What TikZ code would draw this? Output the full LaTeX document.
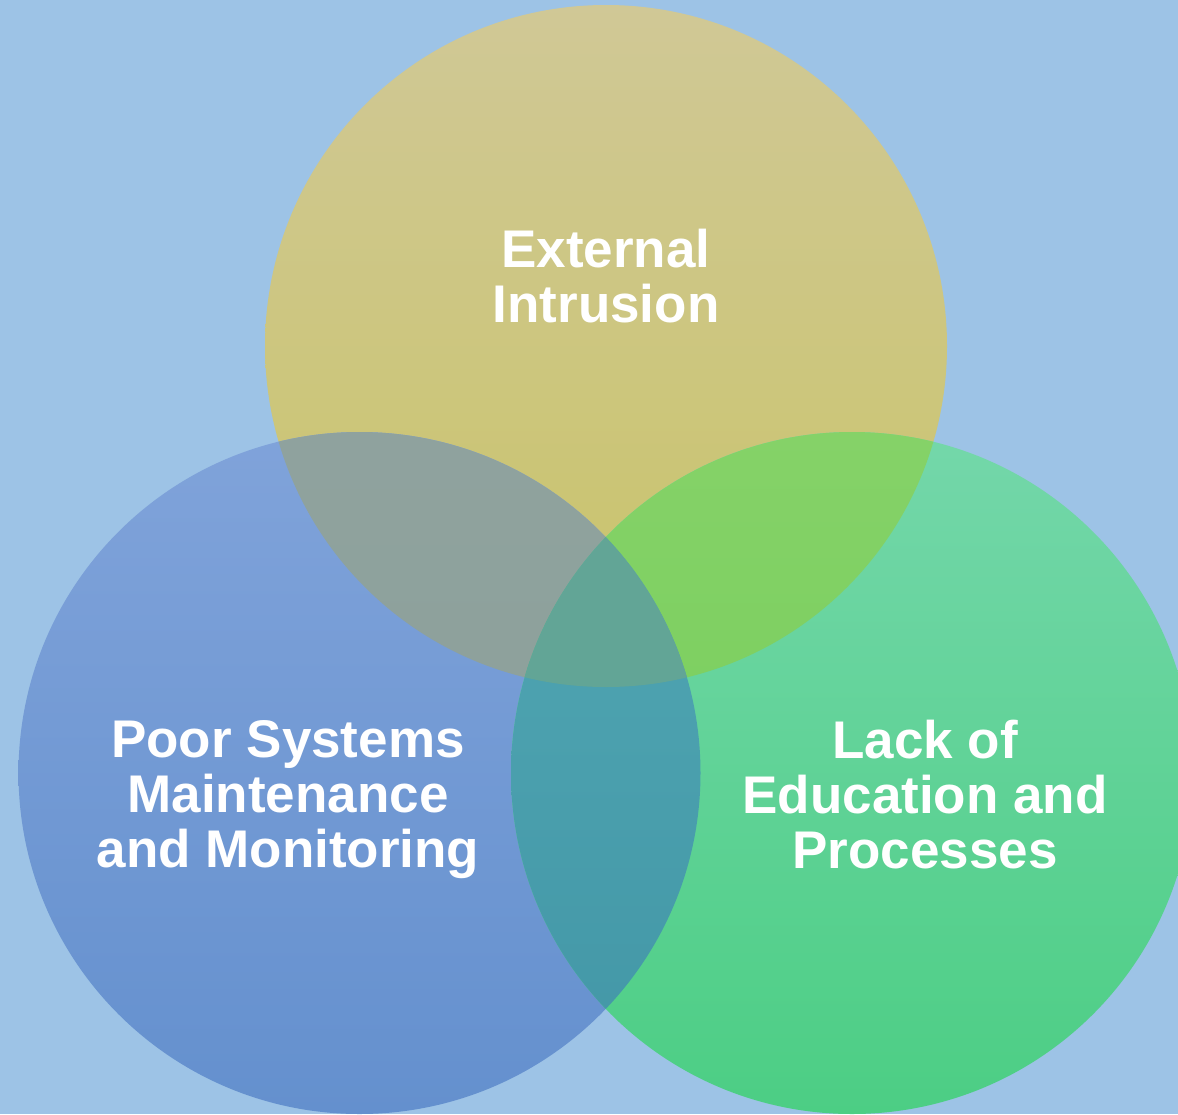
\documentclass[tikz,border=0pt]{standalone}
\usepackage{fontspec}
\setmainfont{Liberation Sans}
\begin{document}
\begin{tikzpicture}[x=1pt,y=-1pt,
  label/.style={text=white,font=\bfseries\fontsize{53}{55}\selectfont,align=center}]
% canvas
\fill[fill={rgb,255:red,157;green,195;blue,230}] (0,0) rectangle (1178,1114);
\clip (0,0) rectangle (1178,1114);
% the three circles
\coordinate (ct) at (606,346);
\coordinate (cl) at (359.5,773);
\coordinate (cr) at (852,773);
\def\rad{341}
\shade[top color={rgb,255:red,208;green,200;blue,150},bottom color={rgb,255:red,201;green,196;blue,104}] (ct) circle[radius=\rad];
\shade[top color={rgb,255:red,128;green,163;blue,218},bottom color={rgb,255:red,100;green,144;blue,206}] (cl) circle[radius=\rad];
\shade[top color={rgb,255:red,116;green,215;blue,170},bottom color={rgb,255:red,76;green,206;blue,132}] (cr) circle[radius=\rad];
% pairwise overlaps
\begin{scope}
  \clip (ct) circle[radius=\rad];
  \shade[top color={rgb,255:red,143;green,162;blue,158},bottom color={rgb,255:red,140;green,160;blue,152}] (cl) circle[radius=\rad];
\end{scope}
\begin{scope}
  \clip (ct) circle[radius=\rad];
  \shade[top color={rgb,255:red,133;green,210;blue,104},bottom color={rgb,255:red,114;green,204;blue,86}] (cr) circle[radius=\rad];
\end{scope}
\begin{scope}
  \clip (cl) circle[radius=\rad];
  \shade[top color={rgb,255:red,82;green,168;blue,180},bottom color={rgb,255:red,66;green,150;blue,166}] (cr) circle[radius=\rad];
\end{scope}
% common centre
\begin{scope}
  \clip (ct) circle[radius=\rad];
  \clip (cl) circle[radius=\rad];
  \fill[fill={rgb,255:red,98;green,165;blue,150}] (cr) circle[radius=\rad];
\end{scope}
% labels
\node[label] (ext) at (606,276) {External\\Intrusion};
\node[label] (poor) at (288,800) {Poor Systems\\Maintenance\\and Monitoring};
\node[label] (lack) at (925,795) {Lack of\\Education and\\Processes};
\end{tikzpicture}
\end{document}
